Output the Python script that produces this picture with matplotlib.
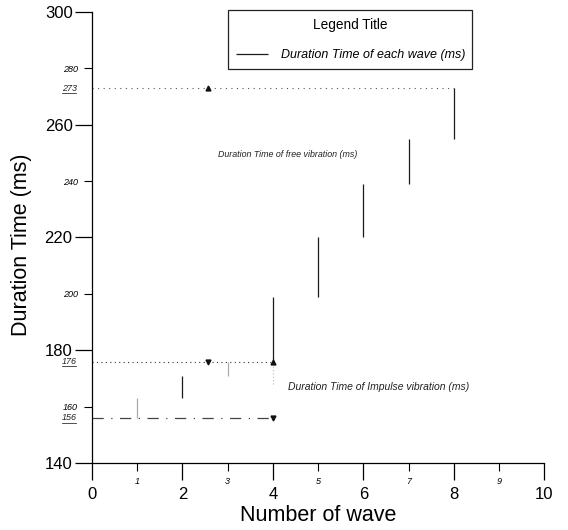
import matplotlib.pyplot as plt
import matplotlib.transforms as mtransforms

plt.rcParams['font.family'] = ['Liberation Sans', 'DejaVu Sans']

# cumulative duration at the end of each wave (ms), wave 0 = start
wave_no = [1, 2, 3, 4, 5, 6, 7, 8]
bounds = [156, 163, 171, 176, 199, 220, 239, 255, 273]
faint_waves = [1, 3]

t_start = 156      # start of the record
t_impulse = 176    # end of impulse vibration
t_end = 273        # end of free vibration
x_impulse = 4
x_end = 8
x_arrow = 2.57

major_y = [140, 180, 220, 260, 300]
minor_y = [160, 200, 240, 280]
major_x = [0, 2, 4, 6, 8, 10]
minor_x = [1, 3, 5, 7, 9]
marked_y = [273, 176, 156]

fig = plt.figure(figsize=(5.68, 5.3), dpi=100)
ax = fig.add_axes([0.162, 0.1264, 0.796, 0.851])

# vertical segment for every wave
for w in wave_no:
    col = '#aaaaaa' if w in faint_waves else '#1a1a1a'
    ax.vlines(w, bounds[w - 1], bounds[w], color=col, lw=0.9,
              label='Duration Time of each wave (ms)' if w == 4 else None)

# reference lines
ax.plot([0, x_end], [t_end, t_end], color='#555555', lw=0.8, dashes=(1, 4))
ax.plot([0, x_impulse], [t_impulse, t_impulse], color='#333333', lw=0.8, dashes=(1, 3))
ax.plot([0, x_impulse], [t_start, t_start], color='#444444', lw=0.9, dashes=(9, 6, 1, 6))
ax.plot([x_impulse, x_impulse], [168, t_impulse], color='#bbbbbb', lw=0.8, dashes=(1, 2))

# arrow heads
ax.plot(x_arrow, t_end, marker='^', color='#111111', ms=3.5, ls='none')
ax.plot(x_arrow, t_impulse, marker='v', color='#111111', ms=3.5, ls='none')
ax.plot(x_impulse, t_impulse, marker='^', color='#111111', ms=3.5, ls='none')
ax.plot(x_impulse, t_start, marker='v', color='#111111', ms=3.5, ls='none')

ax.text(2.79, 249.5, 'Duration Time of free vibration (ms)', fontsize=6.4,
        style='italic', va='center', color='#222222')
ax.text(4.33, 167, 'Duration Time of Impulse vibration (ms)', fontsize=7.5,
        style='italic', va='center', color='#222222')

ax.set_xlim(0, 10)
ax.set_ylim(140, 300)
ax.spines['top'].set_visible(False)
ax.spines['right'].set_visible(False)
ax.spines['left'].set_linewidth(0.9)
ax.spines['bottom'].set_linewidth(0.9)

ax.set_yticks(major_y)
ax.set_yticks(minor_y, minor=True)
ax.set_yticklabels([str(v) for v in minor_y], minor=True, fontsize=6.5, style='italic')
ax.set_xticks(major_x)
ax.set_xticks(minor_x, minor=True)
ax.set_xticklabels([str(v) for v in minor_x], minor=True, fontsize=6.5, style='italic')
ax.tick_params(axis='y', which='major', labelsize=12, length=12, width=0.9, pad=2)
ax.tick_params(axis='x', which='major', labelsize=12, length=12, width=0.9, pad=5)
ax.tick_params(axis='y', which='minor', length=6, width=0.8, pad=4)
ax.tick_params(axis='x', which='minor', length=6, width=0.8, pad=4)

# extra underlined labels at the marked durations
trans = mtransforms.blended_transform_factory(ax.transAxes, ax.transData)
for v in marked_y:
    ax.text(-0.034, v, str(v), transform=trans, ha='right', va='center',
            fontsize=6.5, style='italic', color='#222222')
    ax.plot([-0.066, -0.036], [v - 1.7, v - 1.7], transform=trans, clip_on=False,
            color='#333333', lw=0.6)

ax.set_xlabel('Number of wave', fontsize=15.5)
ax.set_ylabel('Duration Time (ms)', fontsize=15.5)
ax.xaxis.set_label_coords(0.5, -0.092)
ax.yaxis.set_label_coords(-0.132, 0.483)

leg = ax.legend(loc='upper left', bbox_to_anchor=(0.301, 1.004), title='Legend Title',
                fancybox=False, edgecolor='#222222', framealpha=1,
                prop={'size': 9.0, 'style': 'italic'}, title_fontsize=9.8,
                handlelength=2.6, handletextpad=1.0, borderpad=0.6,
                labelspacing=1.4, borderaxespad=0)
leg.get_frame().set_linewidth(0.9)

fig.savefig('out.png', dpi=100)
